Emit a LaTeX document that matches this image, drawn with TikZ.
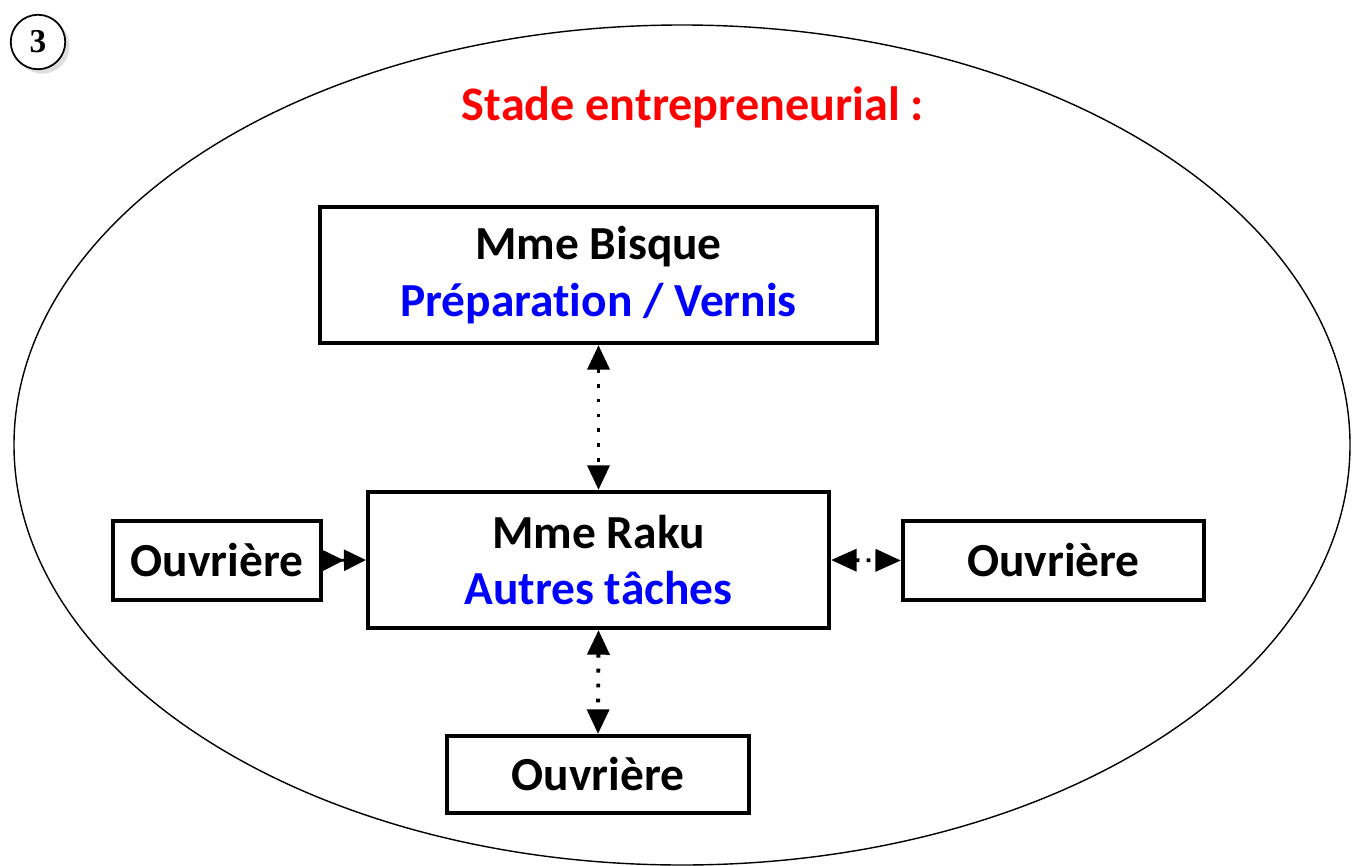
\documentclass[tikz,border=0pt]{standalone}
\usepackage{fontspec}
\setmainfont{Carlito}[Ligatures=NoCommon]
\newfontfamily\serifnum{Liberation Serif}
\usetikzlibrary{arrows.meta,shadows,calc}
\definecolor{tred}{RGB}{255,0,0}
\definecolor{tblue}{RGB}{0,0,255}
\tikzset{
  box/.style={draw=black, line width=2.4pt, fill=white, inner sep=0pt, align=center, font=\bfseries\fontsize{27}{32}\selectfont},
  dotarrow/.style={line width=2.2pt, dash pattern=on 2.2pt off 6.3pt, {Triangle[length=14pt,width=12.5pt]}-{Triangle[length=14pt,width=12.5pt]}},
}
\begin{document}
\begin{tikzpicture}[x=0.02cm,y=-0.02cm]
\useasboundingbox (0,0) rectangle (1365,865);
% big ellipse
\draw[line width=0.8pt] (682,445) ellipse [x radius=668, y radius=420];
% number circle
\node[circle, draw, line width=1pt, minimum size=31pt, inner sep=0pt, fill=white, drop shadow={shadow xshift=2.5pt, shadow yshift=-2.5pt, opacity=0.25}, font=\serifnum\bfseries\fontsize{19}{22}\selectfont] (num) at (38,42) {3};
% title
\node[text=tred, font=\bfseries\fontsize{27.4}{32}\selectfont] (title) at (693,107) {Stade entrepreneurial :};
% boxes
\node[box, minimum width=557*0.02cm, minimum height=136*0.02cm] (bisque) at (598.5,275) {Mme Bisque\\\textcolor{tblue}{Préparation / Vernis}};
\node[box, minimum width=461*0.02cm, minimum height=136*0.02cm] (raku) at (598.5,560) {Mme Raku\\\textcolor{tblue}{Autres tâches}};
\node[box, minimum width=208*0.02cm, minimum height=79*0.02cm] (left) at (217,560.5) {Ouvrière};
\node[box, minimum width=301*0.02cm, minimum height=79*0.02cm] (right) at (1053.5,560.5) {Ouvrière};
\node[box, minimum width=302*0.02cm, minimum height=77*0.02cm] (bottom) at (598,774.5) {Ouvrière};
% connectors
\draw[dotarrow] (bisque.south) -- (raku.north);
\draw[dotarrow] (raku.south) -- (bottom.north);
\draw[dotarrow, dash pattern=on 2.2pt off 4pt, {Triangle[length=14.5pt,width=12.5pt]}-{Triangle[length=14.5pt,width=12.5pt]}] (raku.east) -- (right.west);
\draw[line width=1.6pt, -{Triangle[length=12.5pt,width=12pt]Triangle[length=12.5pt,width=12pt]}] (left.east) -- (raku.west);
\end{tikzpicture}
\end{document}
